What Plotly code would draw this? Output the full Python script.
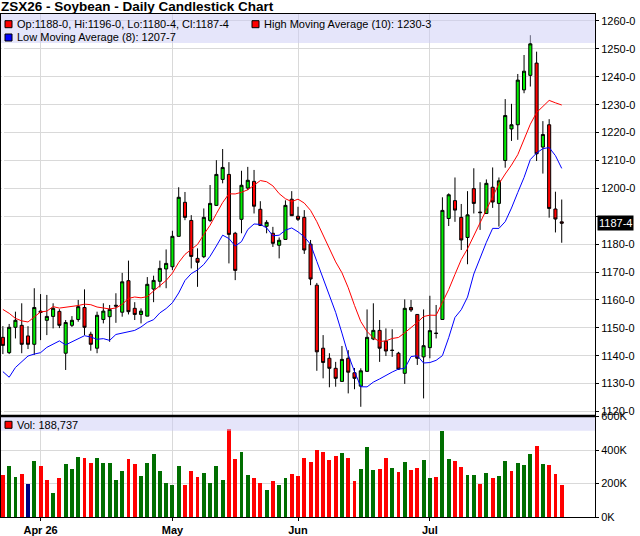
import pandas as pd
import plotly.graph_objects as go
from plotly.subplots import make_subplots

# ZSX26 daily bars, prices in cents (one bar per trading day, Mar 24 -> Jul 30)
abertura = [1146.6, 1141.1, 1150.2, 1150.9, 1147.1, 1144.1, 1156.0, 1152.7, 1154.1, 1155.9,
            1140.9, 1150.9, 1153.0, 1157.3, 1147.7, 1142.7, 1153.0, 1154.0, 1158.1, 1155.6,
            1166.9, 1157.0, 1154.8, 1154.2, 1163.9, 1166.7, 1171.1, 1171.9, 1182.8, 1195.0,
            1188.5, 1174.9, 1175.5, 1188.5, 1193.9, 1203.2, 1205.0, 1183.9, 1188.9, 1200.1,
            1202.5, 1192.5, 1186.4, 1183.9, 1179.6, 1181.7, 1196.1, 1190.0, 1189.6, 1180.0,
            1165.3, 1142.7, 1139.1, 1135.5, 1130.8, 1139.1, 1133.9, 1129.1, 1134.4, 1146.0,
            1149.1, 1145.2, 1142.0, 1140.9, 1133.7, 1157.3, 1154.8, 1139.6, 1142.9, 1148.1,
            1153.0, 1189.2, 1195.6, 1189.6, 1182.4, 1199.9, 1191.5, 1191.0, 1200.4, 1194.6,
            1210.0, 1221.3, 1222.8, 1235.3, 1240.5, 1244.9, 1214.8, 1222.8, 1192.6, 1188.0]
maxima = [1150.6, 1151.4, 1155.8, 1158.8, 1150.6, 1164.2, 1162.1, 1161.8, 1158.8, 1156.7,
          1152.8, 1154.2, 1160.0, 1163.8, 1148.6, 1155.8, 1158.8, 1158.2, 1162.4, 1169.7,
          1174.1, 1159.2, 1157.0, 1168.2, 1168.7, 1174.1, 1178.1, 1184.8, 1200.4, 1198.7,
          1190.4, 1178.5, 1192.8, 1201.2, 1210.1, 1214.1, 1209.4, 1184.4, 1206.3, 1207.7,
          1206.6, 1195.4, 1188.6, 1186.2, 1182.4, 1195.7, 1199.0, 1193.4, 1192.2, 1181.5,
          1166.1, 1147.4, 1140.9, 1137.8, 1143.5, 1142.0, 1135.6, 1135.5, 1156.6, 1158.8,
          1152.8, 1149.8, 1149.5, 1141.4, 1160.2, 1160.0, 1154.9, 1156.6, 1161.5, 1158.2,
          1196.8, 1198.2, 1203.9, 1194.4, 1199.0, 1207.2, 1202.2, 1203.2, 1207.5, 1203.9,
          1232.0, 1230.3, 1241.0, 1247.8, 1254.9, 1249.0, 1224.1, 1224.8, 1198.8, 1196.0]
minima = [1140.6, 1140.6, 1146.2, 1140.9, 1142.4, 1140.3, 1145.6, 1147.4, 1149.8, 1149.9,
          1134.9, 1150.3, 1152.2, 1147.4, 1141.8, 1140.9, 1151.6, 1145.0, 1151.8, 1154.0,
          1154.8, 1152.8, 1151.6, 1154.2, 1159.2, 1164.5, 1164.2, 1170.7, 1182.8, 1188.6,
          1171.3, 1164.7, 1175.0, 1187.9, 1193.7, 1201.8, 1173.1, 1167.1, 1183.9, 1199.4,
          1191.0, 1186.5, 1183.9, 1179.0, 1174.9, 1181.7, 1190.1, 1188.3, 1176.5, 1165.3,
          1134.6, 1131.9, 1128.7, 1128.9, 1130.8, 1126.5, 1128.0, 1121.7, 1134.2, 1145.6,
          1137.8, 1139.9, 1139.6, 1134.9, 1129.9, 1155.7, 1136.7, 1124.7, 1139.1, 1146.2,
          1153.0, 1186.5, 1188.0, 1177.9, 1172.8, 1191.0, 1185.1, 1191.0, 1193.0, 1186.3,
          1207.4, 1217.0, 1217.4, 1234.1, 1236.5, 1209.8, 1205.3, 1189.5, 1184.2, 1180.5]
fechamento = [1143.7, 1150.2, 1152.7, 1144.1, 1144.1, 1157.3, 1155.5, 1154.1, 1157.0, 1150.9,
              1151.9, 1152.7, 1157.6, 1150.2, 1144.1, 1154.5, 1156.0, 1156.6, 1157.8, 1166.5,
              1155.8, 1154.8, 1156.0, 1165.6, 1167.0, 1171.3, 1173.1, 1182.8, 1196.8, 1189.6,
              1175.6, 1173.5, 1189.6, 1194.6, 1205.0, 1207.5, 1183.5, 1170.6, 1201.1, 1202.9,
              1193.6, 1186.7, 1187.8, 1180.3, 1181.4, 1193.9, 1190.2, 1188.9, 1177.9, 1167.5,
              1141.4, 1137.6, 1135.5, 1131.9, 1138.7, 1134.1, 1131.9, 1134.6, 1146.6, 1149.1,
              1142.7, 1141.7, 1141.9, 1135.2, 1157.0, 1156.4, 1139.1, 1143.6, 1149.0, 1148.0,
              1192.1, 1197.7, 1192.2, 1181.5, 1190.5, 1194.6, 1191.3, 1201.8, 1195.1, 1202.7,
              1226.1, 1222.8, 1238.8, 1242.0, 1251.8, 1212.4, 1219.3, 1192.8, 1189.0, 1187.5]
volume = [248000, 302000, 236000, 254000, 200000, 332000, 302000, 218000, 146000, 230000,
          314000, 284000, 356000, 350000, 322000, 350000, 322000, 322000, 218000, 272000,
          344000, 314000, 242000, 322000, 374000, 272000, 206000, 194000, 302000, 194000,
          272000, 236000, 260000, 206000, 302000, 218000, 524000, 344000, 386000, 248000,
          230000, 206000, 164000, 212000, 194000, 230000, 254000, 242000, 350000, 326000,
          398000, 386000, 338000, 362000, 380000, 350000, 212000, 284000, 416000, 278000,
          284000, 350000, 290000, 268000, 326000, 278000, 290000, 338000, 230000, 236000,
          512000, 344000, 332000, 296000, 248000, 248000, 200000, 260000, 230000, 242000,
          332000, 272000, 320000, 308000, 374000, 422000, 314000, 308000, 254000, 188737]

# moving averages before a full window exists
ma_max_inicio = [1156.6, 1155.2, 1153.4, 1152.5, 1152.1, 1154.0, 1155.7, 1156.0, 1157.6]
ma_min_inicio = [1134.3, 1132.3, 1135.8, 1137.9, 1139.9, 1140.6, 1141.1]

# x ticks: first trading day of each month
mes_pos = [6, 27, 47, 68]
mes_txt = ['Apr 26', 'May', 'Jun', 'Jul']

preco_ticks = list(range(1120, 1261, 10))
vol_ticks = [0, 200000, 400000, 600000]
vol_txt = ['0K', '200K', '400K', '600K']

legenda_ma_max = 'High Moving Average (10): 1230-3'
legenda_ma_min = 'Low Moving Average (8): 1207-7'


def fmt(p):
    # cents and eighths, e.g. 1187.5 -> 1187-4
    inteiro = int(p)
    return f'{inteiro}-{int(round((p - inteiro) * 8))}'


df = pd.DataFrame({'o': abertura, 'h': maxima, 'l': minima, 'c': fechamento, 'v': volume})
df['ma_h'] = df['h'].rolling(10).mean()
df['ma_l'] = df['l'].rolling(8).mean()
df.loc[:len(ma_max_inicio) - 1, 'ma_h'] = ma_max_inicio
df.loc[:len(ma_min_inicio) - 1, 'ma_l'] = ma_min_inicio

dif = df['c'].diff().round(2)
cores_vol = ['#006e00' if d > 0 else ('#000080' if d == 0 else '#ff0000') for d in dif]

x = list(range(len(df)))

fig = make_subplots(rows=2, cols=1, shared_xaxes=True, vertical_spacing=0)

fig.add_trace(go.Candlestick(
    x=x, open=df['o'], high=df['h'], low=df['l'], close=df['c'],
    increasing=dict(line=dict(color='black', width=1), fillcolor='#00ee00'),
    decreasing=dict(line=dict(color='black', width=1), fillcolor='#ff0000'),
    whiskerwidth=0, showlegend=False, hoverinfo='skip'), row=1, col=1)
fig.add_trace(go.Scatter(x=x, y=df['ma_h'], mode='lines', line=dict(color='#ff0000', width=1),
                         showlegend=False, hoverinfo='skip'), row=1, col=1)
fig.add_trace(go.Scatter(x=x, y=df['ma_l'], mode='lines', line=dict(color='#0000ff', width=1),
                         showlegend=False, hoverinfo='skip'), row=1, col=1)
fig.add_trace(go.Bar(x=x, y=df['v'], marker=dict(color=cores_vol, line=dict(width=0)),
                     width=0.62, showlegend=False, hoverinfo='skip'), row=2, col=1)

# pixel helpers (plot area: x 1..595, y 14..517)
def px(v):
    return (v - 1) / 594


def py(v):
    return (517 - v) / 503


grade = '#d9d9d9'
fig.update_layout(
    width=640, height=536,
    margin=dict(l=1, r=45, t=14, b=19),
    paper_bgcolor='white', plot_bgcolor='white',
    font=dict(family='Liberation Sans, Arial, sans-serif', size=11, color='black'),
    bargap=0,
    xaxis=dict(domain=[0, 1], range=[-0.3, 94.3], tickvals=mes_pos, showticklabels=False,
               showgrid=True, gridcolor=grade, showline=True, mirror=True, linecolor='black',
               linewidth=1, ticks='', rangeslider=dict(visible=False)),
    xaxis2=dict(domain=[0, 1], range=[-0.3, 94.3], tickvals=mes_pos, ticktext=mes_txt,
                tickfont=dict(size=11, weight='bold'), ticks='outside', ticklen=3,
                tickcolor='black', showgrid=True, gridcolor=grade, showline=True, mirror=True,
                linecolor='black', linewidth=1, rangeslider=dict(visible=False)),
    yaxis=dict(domain=[py(416), 1], range=[1118.4, 1262.5], side='right',
               tickvals=preco_ticks, ticktext=['' if t == 1190 else fmt(t) for t in preco_ticks],
               ticks='outside', ticklen=3, tickcolor='black', showgrid=True, gridcolor=grade,
               showline=True, mirror=True, linecolor='black', zeroline=False),
    yaxis2=dict(domain=[0, py(416)], range=[0, 603000], side='right', tickvals=vol_ticks,
                ticktext=vol_txt, ticks='outside', ticklen=3, tickcolor='black',
                showgrid=True, gridcolor=grade, showline=True, mirror=True,
                linecolor='black', zeroline=False),
)

banda = 'rgba(204,204,245,0.5)'
fig.add_shape(type='rect', xref='x domain', yref='y domain', x0=0, x1=1, y0=0.928, y1=1,
              fillcolor=banda, line=dict(width=0), layer='above')
fig.add_shape(type='rect', xref='x2 domain', yref='y2 domain', x0=0, x1=1, y0=0.854, y1=1,
              fillcolor=banda, line=dict(width=0), layer='above')
fig.add_shape(type='line', xref='x2 domain', yref='y2 domain', x0=0, x1=1, y0=1, y1=1,
              line=dict(color='black', width=2.5), layer='above')

# legend squares
quadrados = [(5, 20.7, '#ff0000'), (252, 20.7, '#ff0000'), (5, 34, '#0000ff'), (5, 421.3, '#ff0000')]
for qx, qy, cor in quadrados:
    fig.add_shape(type='rect', xref='paper', yref='paper', x0=px(qx), x1=px(qx + 7),
                  y0=py(qy + 7), y1=py(qy), fillcolor=cor, line=dict(color='black', width=1),
                  layer='above')

ult = df.iloc[-1]
textos = [
    (16, 24.3, f"Op:{fmt(ult['o'])}, Hi:{fmt(ult['h'])}, Lo:{fmt(ult['l'])}, Cl:{fmt(ult['c'])}"),
    (263, 24.3, legenda_ma_max),
    (16, 37.5, legenda_ma_min),
    (16, 424.8, f"Vol: {int(ult['v']):,}"),
]
for tx, ty, t in textos:
    fig.add_annotation(x=px(tx), y=py(ty), xref='paper', yref='paper', text=t, showarrow=False,
                       xanchor='left', yanchor='middle', font=dict(size=11), borderpad=0)

fig.add_annotation(x=px(0), y=py(7), xref='paper', yref='paper',
                   text='<b>ZSX26 - Soybean - Daily Candlestick Chart</b>', showarrow=False,
                   xanchor='left', yanchor='middle', font=dict(size=13.5), borderpad=0)

# last price marker on the price axis
fig.add_annotation(x=1, y=ult['c'], xref='paper', yref='y', text=fmt(ult['c']), showarrow=False,
                   xanchor='left', xshift=2, bgcolor='black', font=dict(color='white', size=11),
                   borderpad=1)

# page without body margin so the 640x536 figure fills the window
fig.write_html('out.html', config={'displayModeBar': False},
               post_script="document.body.style.margin='0';")
